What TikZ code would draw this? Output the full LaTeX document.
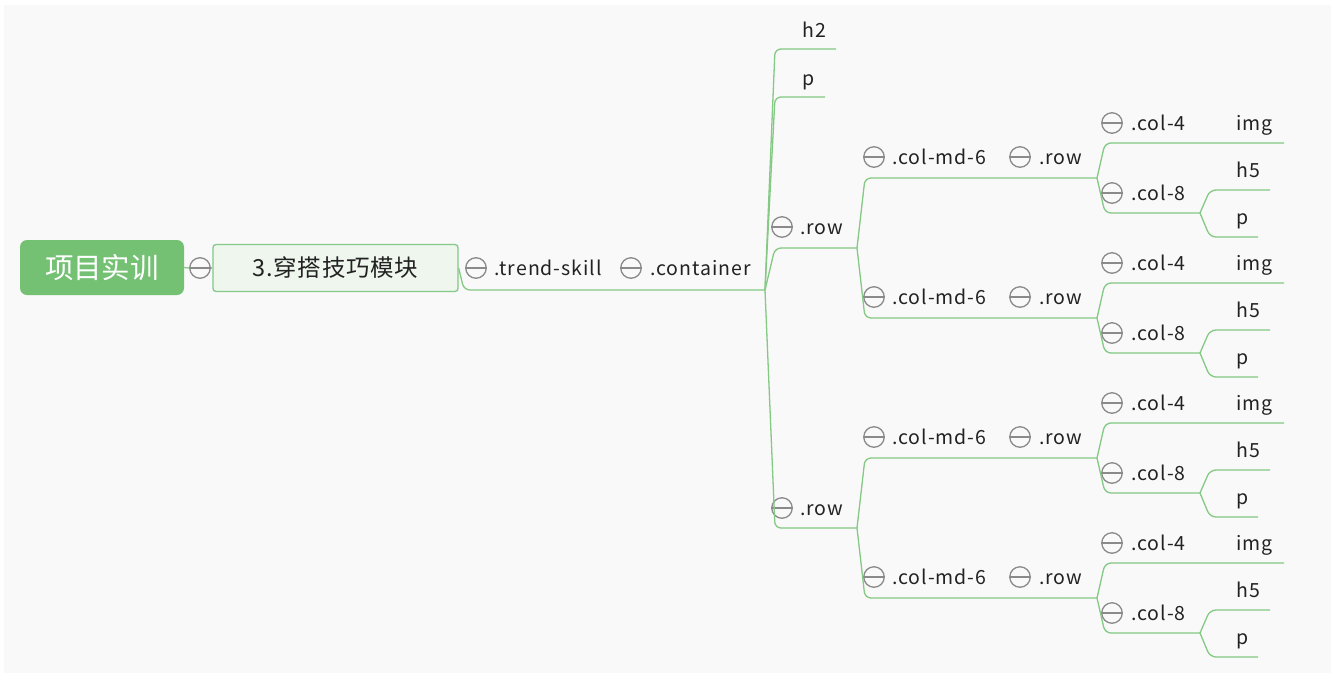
\documentclass[tikz,border=0pt]{standalone}
\usepackage{fontspec}
\setmainfont{Noto Sans CJK SC}
\newfontfamily\lblfont[LetterSpace=5]{Noto Sans CJK SC}
\newfontfamily\boxfont[LetterSpace=3]{Noto Sans CJK SC}
\definecolor{lg}{HTML}{84C984}
\definecolor{bgc}{HTML}{F9F9F9}
\definecolor{rootg}{HTML}{74C174}
\definecolor{boxfill}{HTML}{EEF6EE}
\definecolor{cg}{HTML}{8A8A8A}
\definecolor{txt}{HTML}{222222}
\tikzset{
  conn/.style={draw=lg, line width=1.3pt, rounded corners=6pt},
  lbl/.style={anchor=west, inner sep=0pt, text height=18pt, text depth=4pt,
    font=\lblfont\fontsize{19.5}{22}\selectfont, text=txt},
  coll/.style={circle, draw=cg, line width=1.3pt, minimum size=20.5pt, inner sep=0pt, fill=bgc,
    path picture={\draw[cg, line width=1.3pt]
      ([xshift=-11pt]path picture bounding box.center) -- ([xshift=11pt]path picture bounding box.center);}},
}
\newcommand\mmgroup[3]{%
  \coordinate (#1a) at (865,#2);
  \coordinate (#1b) at (1005,#2);
  \coordinate (#1c) at (1097,#2);
  \node[coll] (#1k1) at (874,#2-21) {};
  \node[lbl] (#1t1) at (892,#2-21) {.col-md-6};
  \node[coll] (#1k2) at (1020,#2-21) {};
  \node[lbl] (#1t2) at (1039,#2-21) {.row};
  \draw[conn] (#3) -- (#1a) -- (#1b) -- (#1c);
  % col-4
  \coordinate (#1e) at (1105,#2-35);
  \coordinate (#1f) at (1200,#2-35);
  \coordinate (#1g) at (1284,#2-35);
  \node[coll] (#1k3) at (1112,#2-55) {};
  \node[lbl] (#1t3) at (1131,#2-55) {.col-4};
  \node[lbl] (#1t4) at (1236,#2-55) {img};
  \draw[conn] (#1c) -- (#1e) -- (#1f) -- (#1g);
  % col-8
  \coordinate (#1h) at (1105,#2+35);
  \coordinate (#1d) at (1200,#2+35);
  \node[coll] (#1k4) at (1112,#2+15) {};
  \node[lbl] (#1t5) at (1131,#2+15) {.col-8};
  \draw[conn] (#1c) -- (#1h) -- (#1d);
  % h5, p
  \coordinate (#1i) at (1210,#2+12);
  \coordinate (#1j) at (1270,#2+12);
  \coordinate (#1m) at (1210,#2+59);
  \coordinate (#1n) at (1258,#2+59);
  \node[lbl] (#1t6) at (1236,#2-8) {h5};
  \node[lbl] (#1t7) at (1236,#2+39) {p};
  \draw[conn] (#1d) -- (#1i) -- (#1j);
  \draw[conn] (#1d) -- (#1m) -- (#1n);
}
\begin{document}
\begin{tikzpicture}[x=1pt,y=-1pt]
\useasboundingbox (0,0) rectangle (1336,678);
\fill[white] (0,0) rectangle (1336,678);
\fill[bgc] (4,5) rectangle (1331,673);

% root and main topic
\node[rectangle, rounded corners=7pt, fill=rootg, minimum width=164pt, minimum height=55pt,
  inner sep=0pt, text=white, font=\fontsize{28.5}{30}\selectfont] (root) at (102,267.5) {项目实训};
\node[coll] (c0) at (200,268) {};
\node[draw=lg, fill=boxfill, line width=1.3pt, rounded corners=3pt, minimum width=245pt,
  minimum height=47pt, inner sep=0pt, text=txt, font=\boxfont\fontsize{23.5}{26}\selectfont] (main) at (335.5,268) {3.穿搭技巧模块};
\draw[conn] (root.east) -- (c0.west);
\draw[conn] (c0.east) -- (main.west);

% trend-skill and container
\node[coll] (c1) at (476,268) {};
\node[lbl] (trend) at (494,268) {.trend-skill};
\node[coll] (c2) at (631,268) {};
\node[lbl] (cont) at (650,268) {.container};
\coordinate (tsA) at (464,290);
\coordinate (tsB) at (615,290);
\coordinate (K) at (765,290);
\draw[conn] (main.east) -- (tsA) -- (tsB) -- (K);

% container children
\coordinate (h2a) at (775,49);
\coordinate (h2b) at (836,49);
\node[lbl] (h2) at (802,30) {h2};
\draw[conn] (K) -- (h2a) -- (h2b);
\coordinate (pa) at (775,97);
\coordinate (pb) at (825,97);
\node[lbl] (p0) at (802,78) {p};
\draw[conn] (K) -- (pa) -- (pb);

% row 1
\node[coll] (r1k) at (782,227) {};
\node[lbl] (r1t) at (800,227) {.row};
\coordinate (r1a) at (775,248);
\coordinate (r1b) at (857,248);
\draw[conn] (K) -- (r1a) -- (r1b);
% row 2
\node[coll] (r2k) at (782,508) {};
\node[lbl] (r2t) at (800,508) {.row};
\coordinate (r2a) at (775,528);
\coordinate (r2b) at (857,528);
\draw[conn] (K) -- (r2a) -- (r2b);

\mmgroup{ga}{178}{r1b}
\mmgroup{gb}{318}{r1b}
\mmgroup{gc}{458}{r2b}
\mmgroup{gd}{598}{r2b}
\end{tikzpicture}
\end{document}
